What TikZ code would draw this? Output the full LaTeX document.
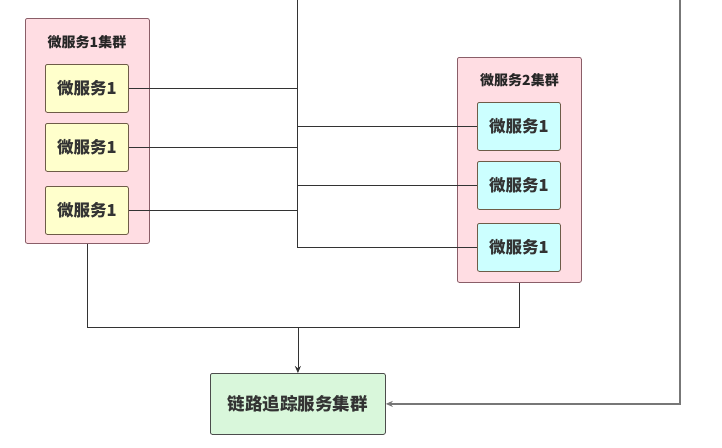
\documentclass[tikz,border=0pt]{standalone}
\usepackage{fontspec}
\newfontfamily\cjk{Noto Sans CJK SC}
\usetikzlibrary{arrows.meta}
\definecolor{clpink}{HTML}{FFDDE3}
\definecolor{clborder}{HTML}{8A5E68}
\definecolor{svyellow}{HTML}{FFFFCC}
\definecolor{svborder}{HTML}{6E5C48}
\definecolor{svcyan}{HTML}{CCFFFF}
\definecolor{trgreen}{HTML}{D9F7DB}
\definecolor{lnk}{HTML}{333333}
\definecolor{lnkgray}{HTML}{777777}
\begin{document}
\begin{tikzpicture}[x=1pt,y=-1pt,
  cluster/.style={draw=clborder, fill=clpink, rounded corners=2pt, line width=0.8pt,
    minimum width=124pt, minimum height=225pt, anchor=north west, inner sep=0pt},
  cltitle/.style={font=\cjk\bfseries\fontsize{14}{15}\selectfont, text=black!85},
  svc/.style={draw=svborder, rounded corners=2pt, line width=0.8pt,
    minimum width=83pt, minimum height=48pt, anchor=north west, inner sep=0pt,
    font=\cjk\bfseries\fontsize{16.5}{17}\selectfont, text=black!80},
  svy/.style={svc, fill=svyellow},
  svb/.style={svc, fill=svcyan},
  tracebox/.style={draw=black!70, fill=trgreen, rounded corners=2pt, line width=0.8pt,
    minimum width=175pt, minimum height=61pt, anchor=north west, inner sep=0pt,
    font=\cjk\bfseries\fontsize{17.5}{18}\selectfont, text=black!80},
  link/.style={draw=lnk, line width=0.8pt},
  arr/.style={link, -{Stealth[length=7pt,width=6pt]}}
]
\fill[white] (0,0) rectangle (722,447);
\useasboundingbox (0,0) rectangle (722,447);

% clusters
\node[cluster] (c1) at (25,18) {};
\node[cltitle] (t1) at (87,42) {微服务1集群};
\node[svy] (a1) at (45,64) {微服务1};
\node[svy] (a2) at (45,123) {微服务1};
\node[svy] (a3) at (45,186) {微服务1};

\node[cluster] (c2) at (457,57) {};
\node[cltitle] (t2) at (519.5,80) {微服务2集群};
\node[svb] (b1) at (477,102) {微服务1};
\node[svb] (b2) at (477,161) {微服务1};
\node[svb] (b3) at (477,223) {微服务1};

\node[tracebox] (g) at (210,373) {链路追踪服务集群};

% connectors
\coordinate (top) at (297,0);
\coordinate (rt) at (680,0);
\coordinate (bend) at (0,327);

\draw[link] (top) |- (b3.west);
\draw[link] (a1.east) -- (a1.east -| top);
\draw[link] (a2.east) -- (a2.east -| top);
\draw[link] (a3.east) -- (a3.east -| top);
\draw[link] (b1.west -| top) -- (b1.west);
\draw[link] (b2.west -| top) -- (b2.west);

\draw[link] (c1.south) |- (bend -| c2.south) -- (c2.south);
\draw[arr] (bend -| g.north) -- (g.north);

\draw[arr, draw=lnkgray, line width=1.4pt] (rt) |- (g.east);
\end{tikzpicture}
\end{document}
